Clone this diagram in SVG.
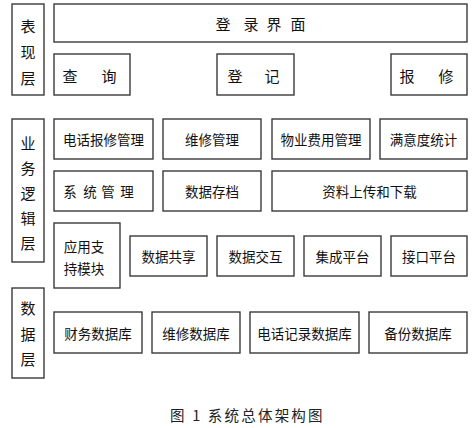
<svg xmlns="http://www.w3.org/2000/svg" width="475" height="428" viewBox="0 0 475 428">
<style>
.b{fill:#fff;stroke:#3a3a3a;stroke-width:1.4}
.t{font-family:"Noto Sans CJK SC","Noto Sans",sans-serif;font-size:13.5px;fill:#111;text-anchor:middle;dominant-baseline:central}
.s{font-size:15px}
.cap{font-family:"Noto Sans CJK SC","Liberation Serif",serif;font-size:14.5px;fill:#222;letter-spacing:2.2px;dominant-baseline:central}
</style>
<rect width="475" height="428" fill="#fff"/>
<g id="layer-presentation">
<rect class="b" x="12" y="4" width="32" height="91"/>
<text class="t s" x="28 28 28" y="25 51 77">表现层</text>
</g>
<g id="login"><rect class="b" x="54" y="4" width="413" height="38"/>
<text class="t s" x="223 235 251 262 274 286 298" y="23">登 录 界 面</text></g>
<g id="query"><rect class="b" x="54" y="54" width="76" height="41"/>
<text class="t s" x="70 90 109" y="75">查 询</text></g>
<g id="register"><rect class="b" x="217" y="54" width="77" height="41"/>
<text class="t s" x="235 254 272" y="75">登 记</text></g>
<g id="repair"><rect class="b" x="391" y="54" width="76" height="41"/>
<text class="t s" x="407 427 446" y="75">报 修</text></g>

<g id="layer-business">
<rect class="b" x="12" y="119" width="32" height="143"/>
<text class="t s" x="28 28 28 28 28" y="142 167 192 217 242">业务逻辑层</text>
</g>
<g id="phone-repair"><rect class="b" x="54" y="119" width="99" height="40"/>
<text class="t" x="103.5" y="139">电话报修管理</text></g>
<g id="maint-mgmt"><rect class="b" x="163" y="119" width="98" height="40"/>
<text class="t" x="212" y="139">维修管理</text></g>
<g id="fee-mgmt"><rect class="b" x="272" y="119" width="98" height="40"/>
<text class="t" x="321" y="139">物业费用管理</text></g>
<g id="satisfaction"><rect class="b" x="380" y="119" width="87" height="40"/>
<text class="t" x="423.5" y="139">满意度统计</text></g>
<g id="sys-mgmt"><rect class="b" x="54" y="171" width="99" height="40"/>
<text class="t" x="70 80 90 99 108 117.5 127" y="191">系 统 管 理</text></g>
<g id="archive"><rect class="b" x="163" y="171" width="98" height="40"/>
<text class="t" x="212" y="191">数据存档</text></g>
<g id="upload"><rect class="b" x="272" y="171" width="195" height="40"/>
<text class="t" x="369.5" y="191">资料上传和下载</text></g>
<g id="app-support"><rect class="b" x="54" y="223" width="66" height="65"/>
<text class="t" x="84" y="246">应用支</text>
<text class="t" x="84" y="268">持模块</text></g>
<g id="share"><rect class="b" x="130" y="236" width="77" height="40"/>
<text class="t" x="168.5" y="256">数据共享</text></g>
<g id="interact"><rect class="b" x="217" y="236" width="77" height="40"/>
<text class="t" x="255.5" y="256">数据交互</text></g>
<g id="integration"><rect class="b" x="304" y="236" width="77" height="40"/>
<text class="t" x="342.5" y="256">集成平台</text></g>
<g id="interface"><rect class="b" x="391" y="236" width="76" height="40"/>
<text class="t" x="429" y="256">接口平台</text></g>

<g id="layer-data">
<rect class="b" x="12" y="288" width="32" height="90"/>
<text class="t s" x="28 28 28" y="307 333 358">数据层</text>
</g>
<g id="finance-db"><rect class="b" x="54" y="312" width="88" height="41"/>
<text class="t" x="98" y="333">财务数据库</text></g>
<g id="maint-db"><rect class="b" x="152" y="312" width="88" height="41"/>
<text class="t" x="196" y="333">维修数据库</text></g>
<g id="phone-db"><rect class="b" x="250" y="312" width="109" height="41"/>
<text class="t" x="304.5" y="333">电话记录数据库</text></g>
<g id="backup-db"><rect class="b" x="369" y="312" width="98" height="41"/>
<text class="t" x="418" y="333">备份数据库</text></g>
<g id="connectors"></g>
<text class="cap" x="170" y="414">图 1 系统总体架构图</text>
</svg>
